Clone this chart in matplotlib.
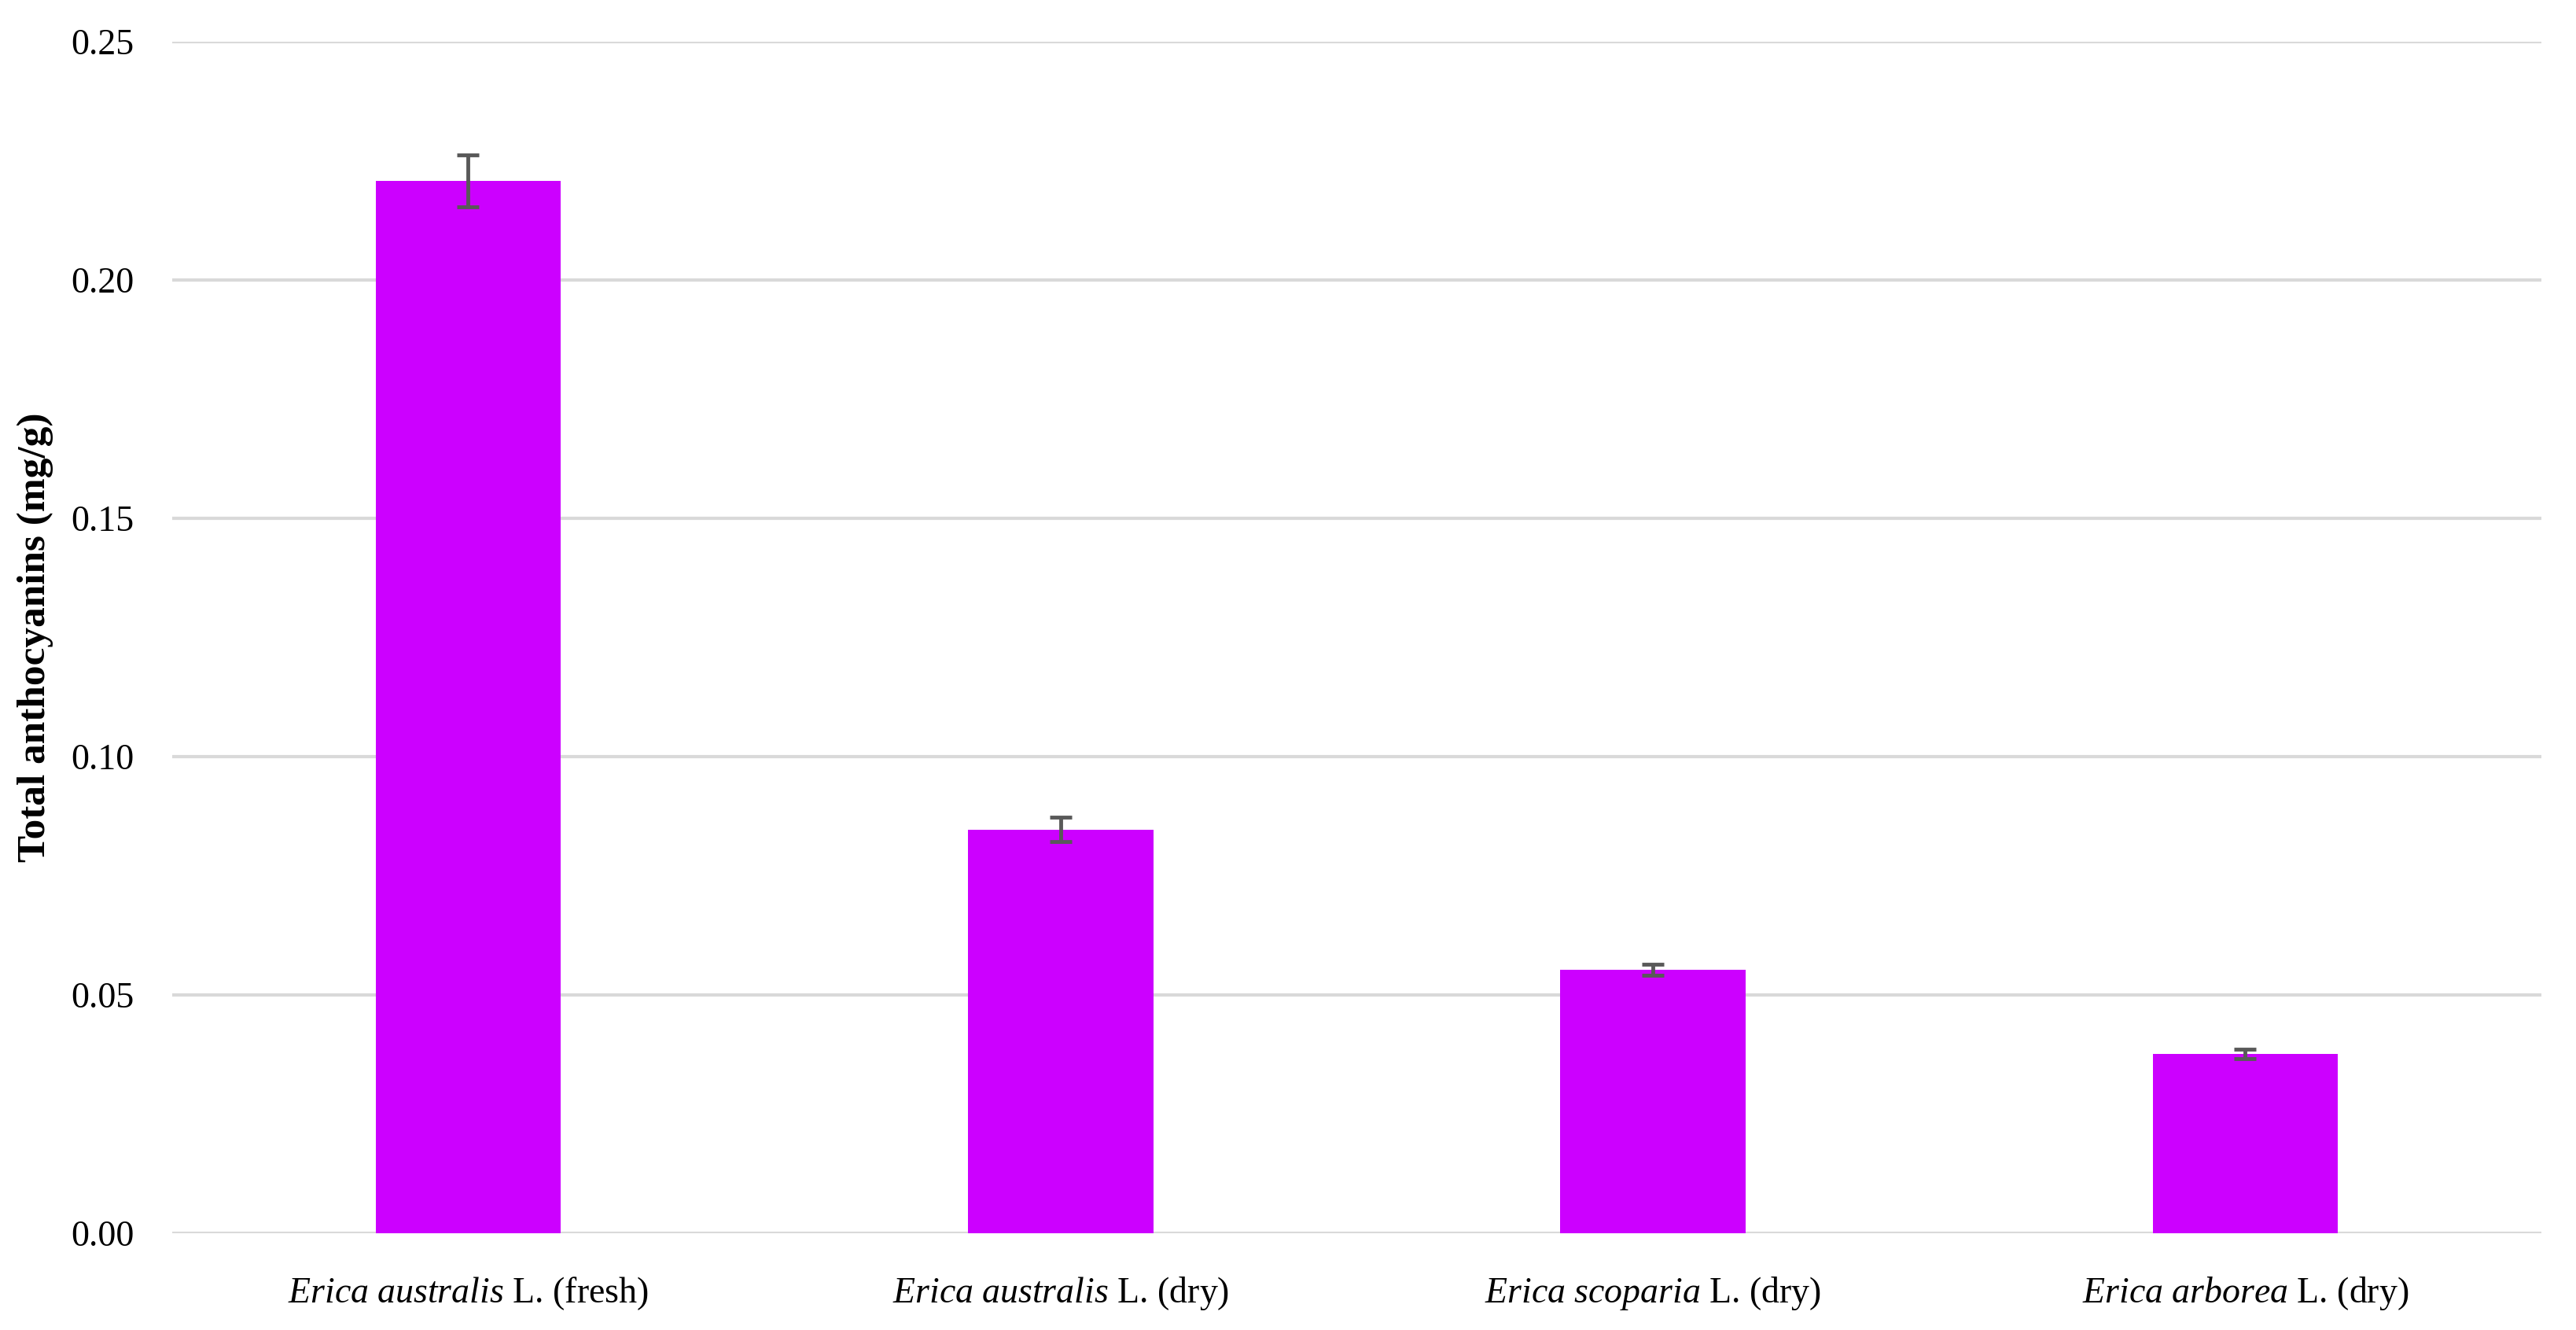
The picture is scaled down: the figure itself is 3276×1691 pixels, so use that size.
import matplotlib
matplotlib.use("Agg")
import matplotlib.pyplot as plt
import numpy as np

categories_species = ["Erica australis", "Erica australis", "Erica scoparia", "Erica arborea"]
categories_suffix = ["L. (fresh)", "L. (dry)", "L. (dry)", "L. (dry)"]
values = [0.2208, 0.0847, 0.0553, 0.0376]
errors = [0.0055, 0.0026, 0.0012, 0.0010]
yticks = [0.00, 0.05, 0.10, 0.15, 0.20, 0.25]
ylabel = "Total anthocyanins (mg/g)"

plt.rcParams['font.family'] = ['Liberation Serif', 'DejaVu Serif']
plt.rcParams['mathtext.fontset'] = 'custom'
plt.rcParams['mathtext.rm'] = 'Liberation Serif'
plt.rcParams['mathtext.it'] = 'Liberation Serif:italic'

fig = plt.figure(figsize=(32.76, 16.91), dpi=100)
ax = fig.add_axes([0.0668, 0.0727, 0.9198, 0.896])

x = np.arange(len(values))
ax.bar(x, values, width=0.313, color="#CC00FF", zorder=3)
ax.errorbar(x, values, yerr=errors, fmt="none", ecolor="#595959",
            elinewidth=3.5, capsize=10, capthick=3.5, zorder=4)

labels = []
for sp, suf in zip(categories_species, categories_suffix):
    labels.append(r"$\mathit{" + sp.replace(" ", r"\ ") + r"}$ " + suf)

ax.set_xlim(-0.5, len(values) - 0.5)
ax.set_ylim(0, 0.25)
ax.set_xticks(x)
ax.set_xticklabels(labels, fontsize=33)
ax.set_yticks(yticks)
ax.set_yticklabels([f"{v:.2f}" for v in yticks], fontsize=33)
ax.tick_params(axis='both', length=0)
ax.tick_params(axis='y', pad=35)
ax.tick_params(axis='x', pad=38)

for s in ax.spines.values():
    s.set_visible(False)
ax.yaxis.grid(True, color="#D9D9D9", linewidth=3, zorder=0)
ax.set_axisbelow(True)

ax.set_ylabel(ylabel, fontsize=37, fontweight='bold')
ax.yaxis.set_label_coords(-0.050, 0.5, transform=ax.transAxes)

fig.savefig("out.png", dpi=100, facecolor="white")
